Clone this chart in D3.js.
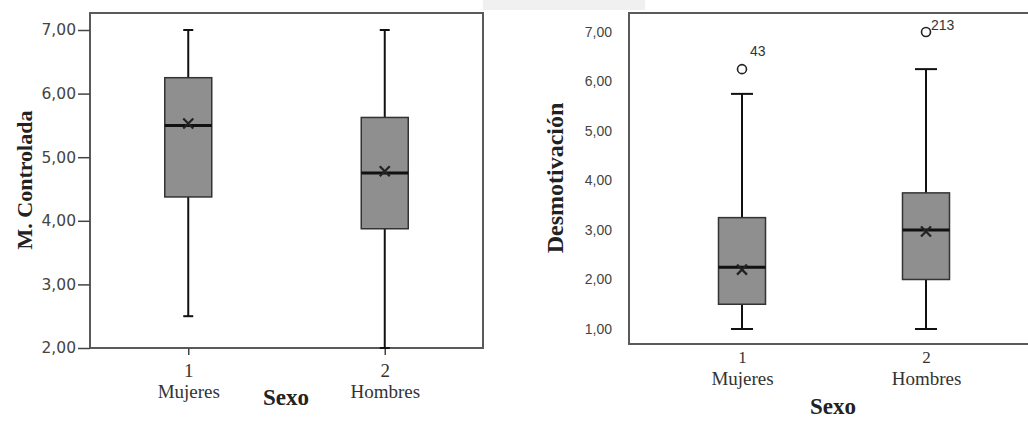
<!DOCTYPE html>
<html><head><meta charset="utf-8">
<script src="https://cdn.jsdelivr.net/npm/d3@7"></script>
<style>body{margin:0;background:#fff}svg{display:block}</style>
</head><body>
<svg id="c" width="1028" height="421"></svg>
<script>
// ---- data ----
const categories = ["1", "2"];
const categoryNames = ["Mujeres", "Hombres"];
const yTicks = [2, 3, 4, 5, 6, 7];
const yTicks2 = [1, 2, 3, 4, 5, 6, 7];
// M. Controlada
const mcLow = [2.5, 2.0];
const mcQ1 = [4.375, 3.875];
const mcMedian = [5.5, 4.75];
const mcQ3 = [6.25, 5.625];
const mcHigh = [7.0, 7.0];
const mcMean = [5.53, 4.78];
// Desmotivación
const deLow = [1.0, 1.0];
const deQ1 = [1.5, 2.0];
const deMedian = [2.25, 3.0];
const deQ3 = [3.25, 3.75];
const deHigh = [5.75, 6.25];
const deMean = [2.2, 2.97];
const deOutlierCat = ["1", "2"];
const deOutlierVal = [6.25, 7.0];
const deOutlierLabel = ["43", "213"];

const svg = d3.select("#c");
const fmt = d => d3.format(".2f")(d).replace(".", ",");
const serif = "Liberation Serif, Times New Roman, serif";

// faint band at the top (scan artefact)
svg.append("rect").attr("x", 483).attr("y", 0).attr("width", 162).attr("height", 10).attr("fill", "#f0f0f0");

function drawPanel(o) {
  const g = svg.append("g");
  const x = d3.scalePoint().domain(categories).range(o.xr).padding(0.5);
  const y = d3.scaleLinear().domain(o.yd).range(o.yr);
  // frame
  g.append("rect").attr("x", o.frame[0]).attr("y", o.frame[1])
    .attr("width", o.frame[2] - o.frame[0]).attr("height", o.frame[3] - o.frame[1])
    .attr("fill", "none").attr("stroke", "#5a5a5a").attr("stroke-width", 2);
  // y axis
  const ya = g.append("g").attr("transform", `translate(${o.frame[0]},0)`)
    .call(d3.axisLeft(y).tickValues(o.ticks).tickFormat(fmt).tickSize(o.tickLen).tickPadding(o.tickPad));
  ya.select(".domain").remove();
  ya.selectAll(".tick line").attr("stroke", "#444").attr("stroke-width", 1.5);
  ya.selectAll(".tick text").attr("font-family", o.tickFamily)
    .attr("font-size", o.tickFont).attr("fill", "#444");
  // x axis
  const xa = g.append("g").attr("transform", `translate(0,${o.frame[3]})`)
    .call(d3.axisBottom(x).tickSize(o.xTickLen).tickPadding(o.xTickPad));
  xa.select(".domain").remove();
  xa.selectAll(".tick line").attr("stroke", "#444").attr("stroke-width", 1.5);
  xa.selectAll(".tick text").attr("font-family", serif)
    .attr("font-size", o.numSize).attr("fill", "#333");
  xa.selectAll(".tick").append("text").attr("y", o.nameY).attr("text-anchor", "middle")
    .attr("font-family", serif).attr("font-size", 19)
    .attr("fill", "#333").text((d, i) => categoryNames[i]);
  // titles
  g.append("text").attr("transform", `translate(${o.yTitle[0]},${o.yTitle[1]}) rotate(-90)`)
    .attr("text-anchor", "middle").attr("font-family", serif)
    .attr("font-weight", "bold").attr("font-size", o.yTitleSize).attr("fill", "#222").text(o.yLabel);
  g.append("text").attr("x", o.xTitle[0]).attr("y", o.xTitle[1]).attr("text-anchor", "middle")
    .attr("font-family", serif)
    .attr("font-weight", "bold").attr("font-size", 23).attr("fill", "#222").text("Sexo");

  const bw = 47, cw = o.capW;
  categories.forEach((c, i) => {
    const cx = x(c);
    g.append("line").attr("x1", cx).attr("x2", cx).attr("y1", y(o.high[i])).attr("y2", y(o.q3[i]))
      .attr("stroke", "#111").attr("stroke-width", 2);
    g.append("line").attr("x1", cx).attr("x2", cx).attr("y1", y(o.q1[i])).attr("y2", y(o.low[i]))
      .attr("stroke", "#111").attr("stroke-width", 2);
    [o.high[i], o.low[i]].forEach(v => g.append("line").attr("x1", cx - cw / 2).attr("x2", cx + cw / 2)
      .attr("y1", y(v)).attr("y2", y(v)).attr("stroke", "#111").attr("stroke-width", 2));
    g.append("rect").attr("x", cx - bw / 2).attr("y", y(o.q3[i])).attr("width", bw)
      .attr("height", y(o.q1[i]) - y(o.q3[i])).attr("fill", "#8f8f8f").attr("stroke", "#333").attr("stroke-width", 1.5);
    g.append("line").attr("x1", cx - bw / 2).attr("x2", cx + bw / 2).attr("y1", y(o.med[i])).attr("y2", y(o.med[i]))
      .attr("stroke", "#111").attr("stroke-width", 3);
    const my = y(o.mean[i]), s = 5;
    g.append("path").attr("d", `M${cx - s},${my - s}L${cx + s},${my + s}M${cx + s},${my - s}L${cx - s},${my + s}`)
      .attr("stroke", "#222").attr("stroke-width", 2.2);
  });
  if (o.outCat) {
    o.outCat.forEach((c, i) => {
      const cx = x(c), cy = y(o.outVal[i]);
      g.append("circle").attr("cx", cx).attr("cy", cy).attr("r", 4.5).attr("fill", "#fff")
        .attr("stroke", "#222").attr("stroke-width", 1.6);
      const off = o.outLabel[i] === "43" ? [8, -13] : [5, -2];
      g.append("text").attr("x", cx + off[0]).attr("y", cy + off[1])
        .attr("font-family", "Liberation Sans, Arial, sans-serif").attr("font-size", 14)
        .attr("fill", "#333").text(o.outLabel[i]);
    });
  }
}

drawPanel({
  xr: [90, 483], yd: [2, 7], yr: [348, 30], frame: [90, 13, 483, 348], ticks: yTicks,
  tickLen: 12, tickPad: 2, tickFont: 15.5, tickFamily: "DejaVu Sans, Verdana, sans-serif",
  xTickLen: 7, xTickPad: 8.5, nameY: 50, capW: 10, numSize: 19,
  yLabel: "M. Controlada", yTitle: [32, 180], yTitleSize: 22, xTitle: [286, 405],
  low: mcLow, q1: mcQ1, med: mcMedian, q3: mcQ3, high: mcHigh, mean: mcMean
});
drawPanel({
  xr: [650, 1018], yd: [1, 7], yr: [329, 32], frame: [629, 13, 1040, 344], ticks: yTicks2,
  tickLen: 0, tickPad: 17, tickFont: 14, tickFamily: "Liberation Sans, Arial, sans-serif",
  xTickLen: 0, xTickPad: 7, nameY: 41, capW: 22, numSize: 17,
  yLabel: "Desmotivación", yTitle: [563, 178], yTitleSize: 24, xTitle: [833, 414],
  low: deLow, q1: deQ1, med: deMedian, q3: deQ3, high: deHigh, mean: deMean,
  outCat: deOutlierCat, outVal: deOutlierVal, outLabel: deOutlierLabel
});
</script>
</body></html>
